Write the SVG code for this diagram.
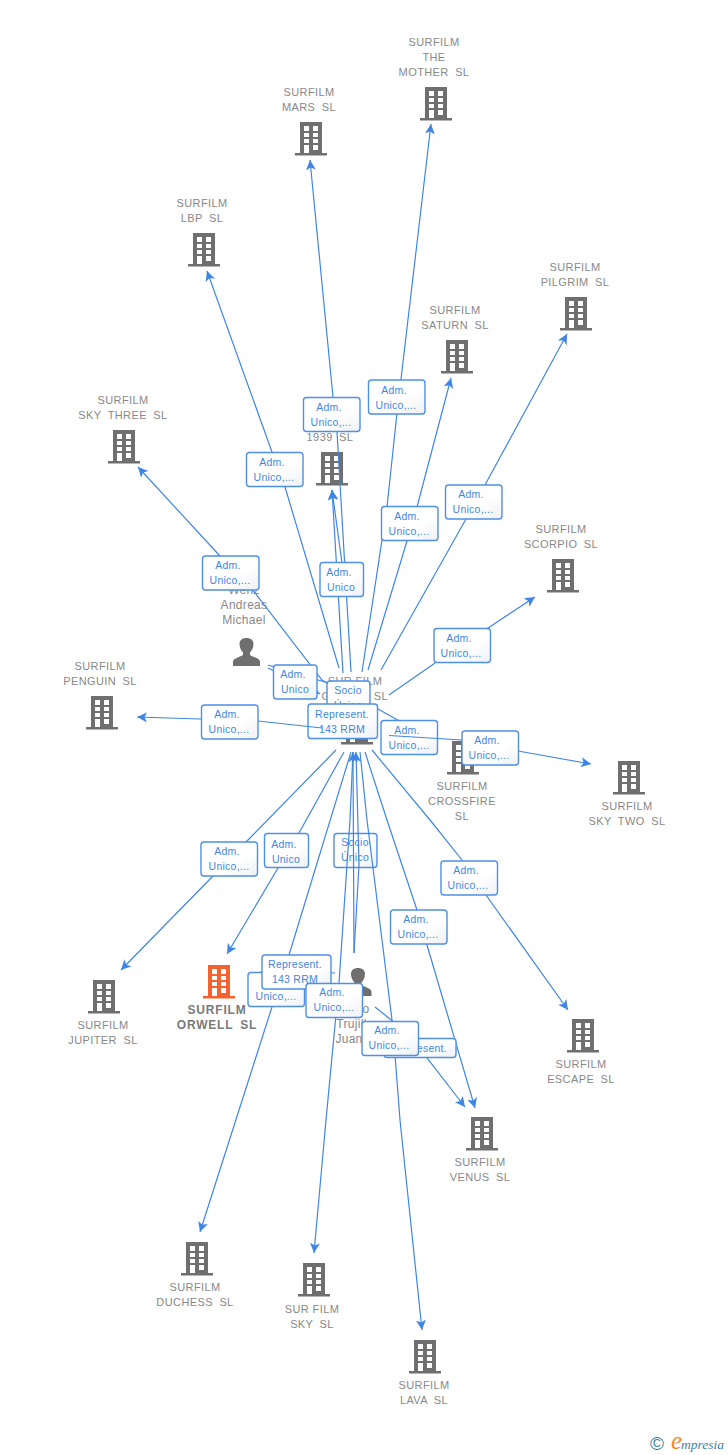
<svg xmlns="http://www.w3.org/2000/svg" width="728" height="1455" viewBox="0 0 728 1455">
<style>
text{font-family:"Liberation Sans",Arial,sans-serif}
.n{font-size:11px;fill:#888;text-anchor:middle;letter-spacing:.4px;word-spacing:3px}
.s{word-spacing:0}
.p{font-size:12px;fill:#888;text-anchor:middle;letter-spacing:.3px}
.o{font-size:12px;fill:#7a7a7a;font-weight:bold;text-anchor:middle;letter-spacing:.8px;word-spacing:3px}
.e{fill:none;stroke:#3f86e4;stroke-width:1.2}
.a{marker-end:url(#ah)}
.b{fill:url(#lg);stroke:#4d90e6;stroke-width:1.4}
.t{font-size:10.5px;fill:#3f86e4;text-anchor:middle;letter-spacing:.25px}
</style>
<defs>
<linearGradient id="lg" x1="0" y1="0" x2="1" y2="1"><stop offset="0" stop-color="#fff"/><stop offset=".6" stop-color="#fff"/><stop offset="1" stop-color="#eef0f2"/></linearGradient>
<marker id="ah" markerUnits="userSpaceOnUse" markerWidth="12" markerHeight="12" refX="10" refY="5" orient="auto"><path d="M10,5 L0,0 L2.5,5 L0,10 Z" fill="#3f86e4"/></marker>
<g id="bld">
<path fill-rule="evenodd" fill="#6f6f6f" d="M-11-16H11V15H-11Z M-7-12V-7H-2V-12Z M2-12V-7H7V-12Z M-7-5V-1H-2V-5Z M2-5V-1H7V-5Z M-7 1V5H-2V1Z M2 1V5H7V1Z M-7 7V15H-2V7Z M2 7V12H7V7Z"/>
<rect x="-16" y="15" width="32" height="2.5" fill="#6f6f6f"/>
</g>
<g id="bldo">
<path fill-rule="evenodd" fill="#f4622f" d="M-11-16H11V15H-11Z M-7-12V-7H-2V-12Z M2-12V-7H7V-12Z M-7-5V-1H-2V-5Z M2-5V-1H7V-5Z M-7 1V5H-2V1Z M2 1V5H7V1Z M-7 7V15H-2V7Z M2 7V12H7V7Z"/>
<rect x="-16" y="15" width="32" height="2.5" fill="#f4622f"/>
</g>
<path id="per" fill="#6f6f6f" d="M-7-8C-7-12-4-14 0-14S7-12 7-8C7-4 5-1 3.500 0.500V3C6 5 13 6 13.500 9.500V14H-13.500V9.500C-13 6-6 5-3.500 3V0.500C-5-1-7-4-7-8Z"/>
</defs>

<g id="n-mother"><text class="n" x="434" y="46">SURFILM</text><text class="n" x="434" y="61">THE</text><text class="n" x="434" y="76">MOTHER SL</text><use href="#bld" x="436" y="103"/></g>
<g id="n-mars"><text class="n" x="309" y="96">SURFILM</text><text class="n" x="309" y="111">MARS SL</text><use href="#bld" x="311" y="138"/></g>
<g id="n-lbp"><text class="n" x="202" y="207">SURFILM</text><text class="n" x="202" y="222">LBP SL</text><use href="#bld" x="204" y="249"/></g>
<g id="n-saturn"><text class="n" x="455" y="314">SURFILM</text><text class="n" x="455" y="329">SATURN SL</text><use href="#bld" x="457" y="356"/></g>
<g id="n-pilgrim"><text class="n" x="575" y="271">SURFILM</text><text class="n" x="575" y="286">PILGRIM SL</text><use href="#bld" x="576" y="313"/></g>
<g id="n-skythree"><text class="n" x="123" y="404">SURFILM</text><text class="n" x="123" y="419">SKY THREE SL</text><use href="#bld" x="124" y="446"/></g>
<g id="n-1939"><text class="n" x="330" y="441">1939 SL</text><use href="#bld" x="332" y="468"/></g>
<g id="n-scorpio"><text class="n" x="561" y="533">SURFILM</text><text class="n" x="561" y="548">SCORPIO SL</text><use href="#bld" x="563" y="575"/></g>
<g id="n-penguin"><text class="n" x="100" y="670">SURFILM</text><text class="n" x="100" y="685">PENGUIN SL</text><use href="#bld" x="102" y="712"/></g>
<g id="n-center"><text class="n s" x="355" y="685">SUR FILM</text><text class="n" x="326" y="700">G</text><text class="n" x="381" y="700">SL</text><use href="#bld" x="357" y="727"/></g>
<g id="n-crossfire"><text class="n" x="462" y="790">SURFILM</text><text class="n" x="462" y="805">CROSSFIRE</text><text class="n" x="462" y="820">SL</text><use href="#bld" x="463" y="757"/></g>
<g id="n-skytwo"><text class="n" x="627" y="810">SURFILM</text><text class="n" x="627" y="825">SKY TWO SL</text><use href="#bld" x="629" y="777"/></g>
<g id="n-jupiter"><text class="n" x="103" y="1029">SURFILM</text><text class="n" x="103" y="1044">JUPITER SL</text><use href="#bld" x="104" y="996"/></g>
<g id="n-orwell"><use href="#bldo" x="219" y="981"/><text class="o" x="217" y="1014">SURFILM</text><text class="o" x="217" y="1029">ORWELL SL</text></g>
<g id="n-escape"><text class="n" x="581" y="1068">SURFILM</text><text class="n" x="581" y="1083">ESCAPE SL</text><use href="#bld" x="583" y="1035"/></g>
<g id="n-venus"><text class="n" x="480" y="1166">SURFILM</text><text class="n" x="480" y="1181">VENUS SL</text><use href="#bld" x="482" y="1133"/></g>
<g id="n-duchess"><text class="n" x="195" y="1291">SURFILM</text><text class="n" x="195" y="1306">DUCHESS SL</text><use href="#bld" x="197" y="1258"/></g>
<g id="n-sky"><text class="n s" x="312" y="1313">SUR FILM</text><text class="n" x="312" y="1328">SKY SL</text><use href="#bld" x="314" y="1279"/></g>
<g id="n-lava"><text class="n" x="424" y="1389">SURFILM</text><text class="n" x="424" y="1404">LAVA SL</text><use href="#bld" x="425" y="1356"/></g>
<g id="n-wenz"><text class="p" x="244" y="594">Wenz</text><text class="p" x="244" y="609">Andreas</text><text class="p" x="244" y="624">Michael</text><use href="#per" x="246.500" y="652"/></g>
<g id="n-juan"><use href="#per" x="358" y="982"/><text class="p" x="366" y="1013">o</text><text class="p" x="355" y="1028">Trujillo</text><text class="p" x="349" y="1043">Juan</text></g>

<g id="connectors">
<polyline class="e" points="378,709 410,727"/>
<rect class="b" x="381" y="720.500" width="56.500" height="34" rx="3"/><text class="t" x="407" y="734">Adm.</text><text class="t" x="409" y="749">Unico,...</text>
<rect class="b" x="327" y="681" width="43" height="34" rx="3"/><text class="t" x="348" y="694">Socio</text><text class="t" x="348" y="709">Único</text>
<rect class="b" x="308" y="704" width="69.500" height="34.500" rx="3"/><text class="t" x="342" y="718">Represent.</text><text class="t" x="342" y="733">143 RRM</text>
<rect class="b" x="334" y="833.500" width="43" height="34" rx="3"/><text class="t" x="355" y="846">Socio</text><text class="t" x="355" y="861">Único</text>

<polyline class="e a" points="351,672 337,432 333,397 310,160"/>
<polyline class="e a" points="362,672 387,507 397,413 431,124"/>
<polyline class="e a" points="339,668 285,487 272,452 207,271"/>
<polyline class="e a" points="327,683 322,680 255,593 220,556 138,467"/>
<polyline class="e a" points="368,670 407,541 417,507 451,378"/>
<polyline class="e a" points="381,670 466,519 485,485 567,334"/>
<polyline class="e a" points="389,695 435,663 488,628 535,597"/>
<line class="e a" x1="343" y1="673" x2="332" y2="490"/>
<line class="e a" x1="345" y1="585" x2="332" y2="490"/>
<polyline class="e a" points="322,728 258,721 200,719 137,717"/>
<polyline class="e a" points="389,735.500 462,740 518,751 591,764"/>
<polyline class="e a" points="336,750 246,842 213,876 121,970"/>
<polyline class="e a" points="344,752 299,833 278,868 227,954"/>
<polyline class="e a" points="351,752 289,955 272,1007 200,1232"/>
<polyline class="e a" points="353,752 350,820 339,983 326,1120 314,1253"/>
<polyline class="e a" points="360,752 367,820 392,1020 395,1055 400,1120 422,1330"/>
<polyline class="e a" points="365,752 387,820 417,910 427,945 475,1108"/>
<polyline class="e a" points="372,750 430,820 462,860 486,895 568,1010"/>
<line class="e a" x1="354" y1="953" x2="353" y2="752"/>
<polyline class="e a" points="354,953 359,865 356,752"/>
<polyline class="e a" points="375,1007 400,1027 427,1058 465,1107"/>
<polyline class="e a" points="335,973 300,971 258,973"/>
<line class="e" x1="268" y1="665" x2="328" y2="683"/>
<line class="e a" x1="268" y1="668" x2="320" y2="694"/>

<rect class="b" x="368.500" y="380" width="56.500" height="34" rx="3"/><text class="t" x="394" y="394">Adm.</text><text class="t" x="396" y="409">Unico,...</text>
<rect class="b" x="303.500" y="397.500" width="56.500" height="34" rx="3"/><text class="t" x="329" y="411">Adm.</text><text class="t" x="331" y="426">Unico,...</text>
<rect class="b" x="246.500" y="452.500" width="56.500" height="34" rx="3"/><text class="t" x="272" y="466">Adm.</text><text class="t" x="274" y="481">Unico,...</text>
<rect class="b" x="381.500" y="506.500" width="56.500" height="34" rx="3"/><text class="t" x="407" y="520">Adm.</text><text class="t" x="409" y="535">Unico,...</text>
<rect class="b" x="445.500" y="485" width="56.500" height="34" rx="3"/><text class="t" x="471" y="498">Adm.</text><text class="t" x="473" y="513">Unico,...</text>
<rect class="b" x="202.500" y="556" width="56.500" height="34" rx="3"/><text class="t" x="228" y="569">Adm.</text><text class="t" x="230" y="584">Unico,...</text>
<rect class="b" x="320" y="562.500" width="43.500" height="34" rx="3"/><text class="t" x="339" y="576">Adm.</text><text class="t" x="341" y="591">Unico</text>
<rect class="b" x="434" y="628.500" width="56.500" height="34" rx="3"/><text class="t" x="459" y="642">Adm.</text><text class="t" x="461" y="657">Unico,...</text>
<rect class="b" x="273.500" y="665" width="43.500" height="34" rx="3"/><text class="t" x="293" y="678">Adm.</text><text class="t" x="295" y="693">Unico</text>
<rect class="b" x="201.500" y="705" width="56.500" height="34" rx="3"/><text class="t" x="227" y="718">Adm.</text><text class="t" x="229" y="733">Unico,...</text>
<rect class="b" x="462" y="731" width="56.500" height="34" rx="3"/><text class="t" x="487" y="744">Adm.</text><text class="t" x="489" y="759">Unico,...</text>
<rect class="b" x="201" y="842" width="56.500" height="34" rx="3"/><text class="t" x="227" y="855">Adm.</text><text class="t" x="229" y="870">Unico,...</text>
<rect class="b" x="264.500" y="833.500" width="44" height="34" rx="3"/><text class="t" x="284" y="848">Adm.</text><text class="t" x="286" y="863">Unico</text>
<rect class="b" x="441" y="861" width="56.500" height="34" rx="3"/><text class="t" x="466" y="874">Adm.</text><text class="t" x="468" y="889">Unico,...</text>
<rect class="b" x="390.500" y="910" width="56.500" height="34" rx="3"/><text class="t" x="416" y="923">Adm.</text><text class="t" x="418" y="938">Unico,...</text>
<rect class="b" x="248" y="972.500" width="56.500" height="34" rx="3"/><text class="t" x="276" y="1000">Unico,...</text>
<rect class="b" x="262" y="955" width="69" height="34" rx="3"/><text class="t" x="295" y="968">Represent.</text><text class="t" x="295" y="983">143 RRM</text>
<rect class="b" x="306" y="983.500" width="56.500" height="34" rx="3"/><text class="t" x="332" y="996">Adm.</text><text class="t" x="334" y="1011">Unico,...</text>
<rect class="b" x="384" y="1038.500" width="72" height="19" rx="3"/><text class="t" x="420" y="1052">Represent.</text>
<rect class="b" x="362" y="1021.500" width="56.500" height="34" rx="3"/><text class="t" x="387" y="1034">Adm.</text><text class="t" x="389" y="1049">Unico,...</text>
</g>

<g id="logo">
<text x="650" y="1450" font-size="19" fill="#3f7f9f" style="font-family:'Liberation Sans',sans-serif">©</text>
<text x="671" y="1449" font-size="25" fill="#f08a24" font-style="italic" style="font-family:'Liberation Serif',serif">e</text>
<text x="681" y="1449" font-size="13.500" fill="#3f7f9f" font-style="italic" style="font-family:'Liberation Serif',serif">mpresia</text>
</g>
</svg>
